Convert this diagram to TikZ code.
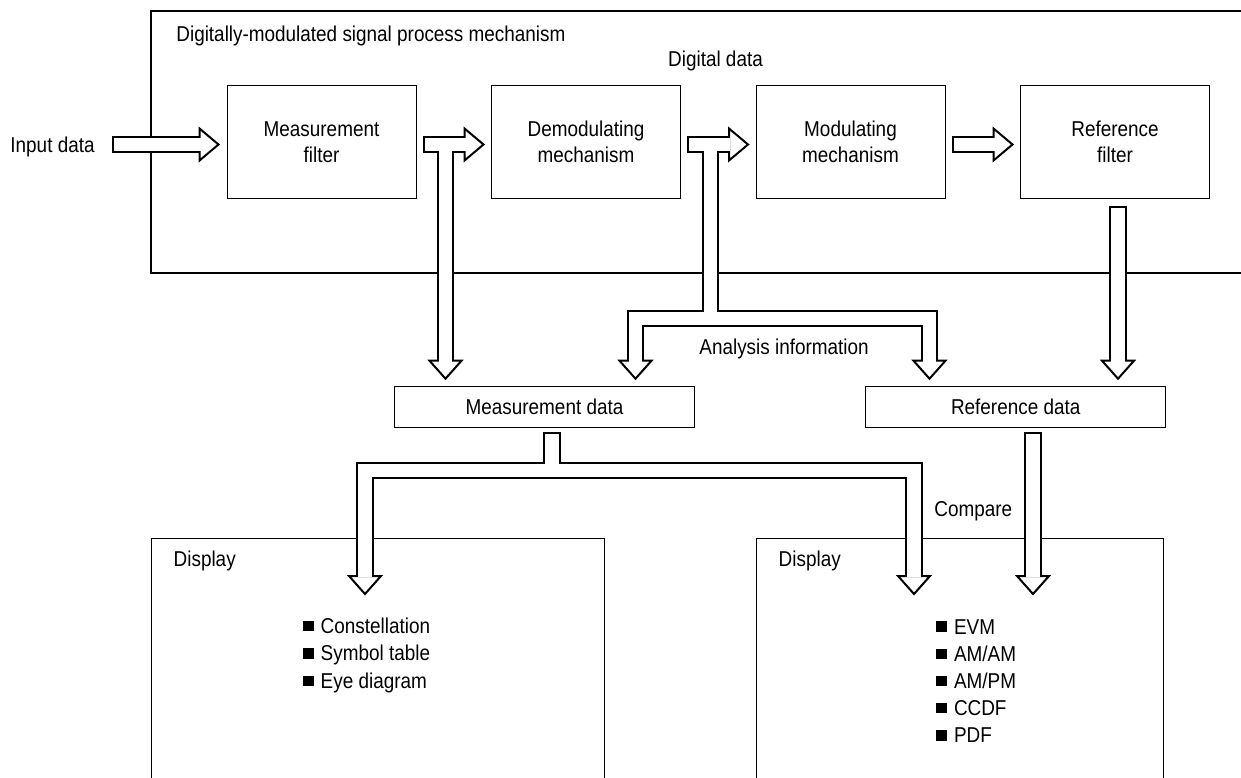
\documentclass[tikz,border=0pt]{standalone}
\usepackage{fontspec}
\setmainfont{Liberation Sans}[FakeStretch=0.88]
\usetikzlibrary{calc}

\tikzset{
  blk/.style={draw, line width=0.5pt, minimum width=94.5pt, minimum height=56.3pt,
              align=center, inner sep=0pt},
  datbox/.style={draw, line width=0.5pt, minimum width=150pt, minimum height=20.5pt, inner sep=0pt},
  dispbox/.style={draw, line width=0.5pt, inner sep=0pt},
  lbl/.style={inner sep=0pt},
  shaftK/.style={line width=8.8pt, line join=miter},
  shaftW/.style={line width=6.8pt, white, line join=miter},
  hollow/.style={draw, fill=white, line width=1pt, line join=miter},
  frame/.style={line width=1pt},
}
\newcommand\headR[1]{\draw[hollow] #1 ++(0,-16) -- ++(19,16) -- ++(-19,16) -- cycle;}
\newcommand\headD[1]{\draw[hollow] #1 ++(-16,0) -- ++(16,18) -- ++(16,-18) -- cycle;}
\newcommand\bul{\rule[1.1pt]{5.2pt}{5.2pt}\hspace{3.6pt}}

\begin{document}
\begin{tikzpicture}[x=0.5pt, y=-0.5pt,
    every node/.style={font=\fontsize{10.75}{13.2}\selectfont}]
  \useasboundingbox (0,0) rectangle (1241,777);

  % processing chain
  \draw[frame] (1241,11) -- (151,11) -- (151,273) -- (1241,273);
  \node[lbl, anchor=base west] (ttl) at (176,41) {Digitally-modulated signal process mechanism};
  \node[blk] (mf) at (321.5,142) {Measurement\\filter};
  \node[blk] (dm) at (586,142) {Demodulating\\mechanism};
  \node[blk] (mo) at (850.5,142) {Modulating\\mechanism};
  \node[blk] (rf) at (1115,142) {Reference\\filter};
  \node[lbl, anchor=base east] (inp) at (95,152) {Input data};
  \node[lbl, anchor=base] (dig) at (715.5,66) {Digital data};

  % data and displays
  \node[datbox] (md) at (544.5,407.2) {Measurement data};
  \node[datbox] (rd) at (1015.7,407.2) {Reference data};
  \node[lbl, anchor=base west] (ana) at (699,354) {Analysis information};
  \node[lbl, anchor=base west] (cmp) at (934,516) {Compare};
  \node[dispbox, minimum width=226.5pt, minimum height=141pt, anchor=north] (dl) at (377.5,537.7) {};
  \node[dispbox, minimum width=203.5pt, minimum height=141pt, anchor=north] (dr) at (959.5,537.7) {};
  \node[lbl, anchor=base west] (dlt) at (173.3,566.7) {Display};
  \node[lbl, anchor=base west] (drt) at (778.3,566.7) {Display};
  \foreach \itm [count=\i] in {Constellation, Symbol table, Eye diagram}
    \node[lbl, anchor=base west] (la\i) at (302.7,{633.3+27.5*(\i-1)}) {\bul\itm};
  \foreach \itm [count=\i] in {EVM, AM/AM, AM/PM, CCDF, PDF}
    \node[lbl, anchor=base west] (lb\i) at (936,{634+27.2*(\i-1)}) {\bul\itm};

  % branch points
  \coordinate (p1) at ($(mf.east)+(29,2.5)$);
  \coordinate (q1) at ($(md.north)+(0,-25.5)$);
  \coordinate (p2) at ($(dm.east)+(29.5,2.5)$);
  \coordinate (bar2) at ($(p2)+(0,174)$);
  \coordinate (l2) at ($(md.north east)+(-59.5,-25.5)$);
  \coordinate (r2) at ($(rd.north west)+(64.3,-25.5)$);
  \coordinate (p3) at ($(rf.south)+(3,7)$);
  \coordinate (p4) at ($(md.south)+(7.5,4)$);
  \coordinate (bar4) at ($(p4)+(0,38.1)$);
  \coordinate (q4) at ($(dl.north)+(0,38.3)$);
  \coordinate (l4) at ($(dl.north)+(-12.5,38.3)$);
  \coordinate (r4) at ($(dr.north)+(-45.5,38.3)$);
  \coordinate (p5) at ($(rd.south)+(17.3,4)$);

  % outlines of the block arrows
  \draw[shaftK] ($(mf.west)+(-114.5,2.5)$) -- ($(mf.west)+(-27,2.5)$);
  \draw[shaftK] ($(mf.east)+(6,2.5)$) -- ($(dm.west)+(-26.5,2.5)$);
  \draw[shaftK] (p1) -- (p1 |- q1);
  \draw[shaftK] ($(dm.east)+(6,2.5)$) -- ($(mo.west)+(-26.5,2.5)$);
  \draw[shaftK] (p2) -- (bar2);
  \draw[shaftK] (l2) -- (l2 |- bar2) -- (r2 |- bar2) -- (r2);
  \draw[shaftK] ($(mo.east)+(6,2.5)$) -- ($(rf.west)+(-26.5,2.5)$);
  \draw[shaftK] (p3) -- (p3 |- q1);
  \draw[shaftK] (p4) -- (bar4);
  \draw[shaftK] (l4) -- (l4 |- bar4) -- (r4 |- bar4) -- (r4);
  \draw[shaftK] (p5) -- (p5 |- q4);

  % heads
  \headR{($(mf.west)+(-27,2.5)$)}
  \headR{($(dm.west)+(-26.5,2.5)$)}
  \headR{($(mo.west)+(-26.5,2.5)$)}
  \headR{($(rf.west)+(-26.5,2.5)$)}
  \headD{(p1 |- q1)}
  \headD{(l2)}
  \headD{(r2)}
  \headD{(p3 |- q1)}
  \headD{(l4)}
  \headD{(r4)}
  \headD{(p5 |- q4)}

  % hollow insides
  \draw[shaftW] ($(mf.west)+(-112.5,2.5)$) -- ($(mf.west)+(-25.8,2.5)$);
  \draw[shaftW] ($(mf.east)+(8,2.5)$) -- ($(dm.west)+(-25.3,2.5)$);
  \draw[shaftW] (p1) -- ($(p1 |- q1)+(0,1.2)$);
  \draw[shaftW] ($(dm.east)+(8,2.5)$) -- ($(mo.west)+(-25.3,2.5)$);
  \draw[shaftW] (p2) -- (bar2);
  \draw[shaftW] ($(l2)+(0,1.2)$) -- (l2 |- bar2) -- (r2 |- bar2) -- ($(r2)+(0,1.2)$);
  \draw[shaftW] ($(mo.east)+(8,2.5)$) -- ($(rf.west)+(-25.3,2.5)$);
  \draw[shaftW] ($(p3)+(0,2)$) -- ($(p3 |- q1)+(0,1.2)$);
  \draw[shaftW] ($(p4)+(0,2)$) -- (bar4);
  \draw[shaftW] ($(l4)+(0,1.2)$) -- (l4 |- bar4) -- (r4 |- bar4) -- ($(r4)+(0,1.2)$);
  \draw[shaftW] ($(p5)+(0,2)$) -- ($(p5 |- q4)+(0,1.2)$);
\end{tikzpicture}
\end{document}
